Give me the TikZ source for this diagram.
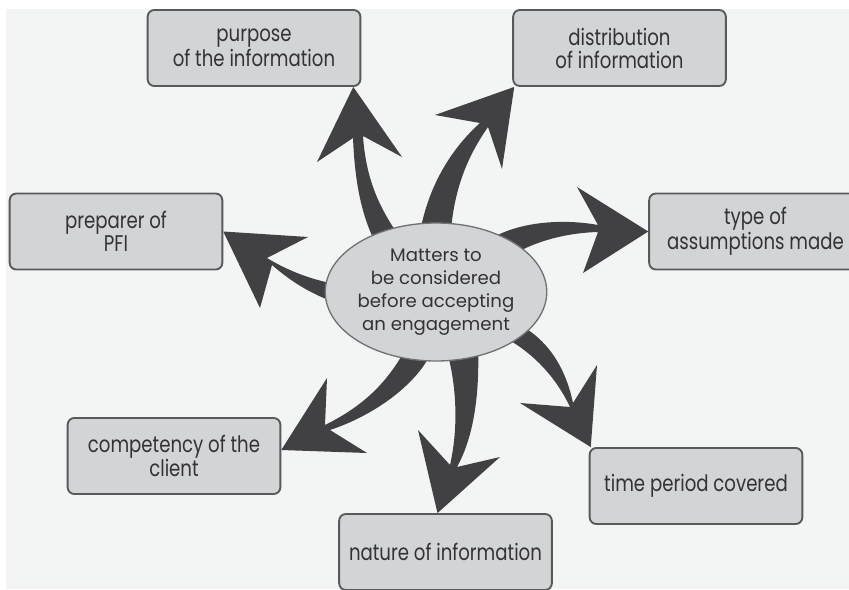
\documentclass[tikz,border=0pt]{standalone}
\usepackage{fontspec}
\setmainfont{Poppins}
\newfontfamily\boxfont[FakeStretch=0.8]{Poppins}
\usetikzlibrary{calc,shapes.geometric}
\definecolor{bg}{HTML}{F3F4F4}
\definecolor{boxfill}{HTML}{D3D4D5}
\definecolor{boxline}{HTML}{58595B}
\definecolor{arrowc}{HTML}{414143}
\definecolor{txt}{HTML}{333335}
\begin{document}
\begin{tikzpicture}[x=0.75pt,y=-0.75pt,
  infobox/.style={draw=boxline,fill=boxfill,line width=1.4pt,rounded corners=5pt,
    minimum width=159.5pt,minimum height=57pt,inner sep=0pt,align=center,
    font=\boxfont\fontsize{17}{17.25}\selectfont,text=txt},
  hub/.style={ellipse,draw=boxline!85,fill=boxfill,line width=1pt,
    minimum width=130.5pt,minimum height=103.5pt,inner sep=0pt,align=center,
    font=\fontsize{13.6}{17.25}\selectfont,text=txt},
  bigarrow/.style={fill=arrowc}]
\clip (0,0) rectangle (849,589);
\fill[white] (0,0) rectangle (849,589);
\fill[bg] (6,9) rectangle (849,589);

\node[infobox] (purp) at (254,48) {purpose\\of the information};
\node[infobox] (dist) at (619.5,48) {distribution\\of information};
\node[infobox] (prep) at (116,231.5) {preparer of\\PFI};
\node[infobox] (type) at (755.5,231.5) {type of\\assumptions made};
\node[infobox] (comp) at (174,456) {competency of the\\client};
\node[infobox] (time) at (696,486) {time period covered};
\node[infobox] (nat) at (445.5,552) {nature of information};

\coordinate (t1) at ($(purp.south east)+(-8,0)$);
\coordinate (t2) at ($(dist.south west)+(2,0)$);
\coordinate (t3) at (type.west);
\coordinate (t4) at (prep.east);
\coordinate (t5) at ($(comp.east)+(0,-6)$);
\coordinate (t6) at ($(nat.north)+(-8,0)$);
\coordinate (t7) at ($(time.north west)+(2,0)$);

\fill[bigarrow] (t1) -- (317,162) -- (353,138) .. controls (355,185) and (362,218) .. (378,248)
  -- (402,240) .. controls (380,210) and (366,180) .. (363,136) -- (402,157) -- cycle;
\fill[bigarrow] (t2) -- (435,115) -- (480,123) .. controls (450,150) and (425,190) .. (418,245)
  -- (450,245) .. controls (452,195) and (465,160) .. (488,127) -- (502,169) -- cycle;
\fill[bigarrow] (t3) -- (577,187) -- (598,225) .. controls (560,218) and (510,222) .. (482,245)
  -- (495,268) .. controls (520,245) and (560,233) .. (598,232) -- (583,273) -- cycle;
\fill[bigarrow] (t4) -- (308,237) -- (267,258) .. controls (290,272) and (320,284) .. (358,287)
  -- (360,310) .. controls (320,300) and (295,285) .. (272,265) -- (260,308) -- cycle;
\fill[bigarrow] (t5) -- (327,378) -- (325,425) .. controls (355,410) and (383,390) .. (405,350)
  -- (430,355) .. controls (415,385) and (375,415) .. (330,430) -- (367,453) -- cycle;
\fill[bigarrow] (t6) -- (418,430) -- (450,465) .. controls (458,430) and (457,390) .. (448,355)
  -- (478,345) .. controls (480,400) and (472,440) .. (457,467) -- (500,457) -- cycle;
\fill[bigarrow] (t7) -- (597,365) -- (573,403) .. controls (565,365) and (545,333) .. (505,318)
  -- (500,335) .. controls (530,350) and (555,375) .. (570,407) -- (520,403) -- cycle;

\node[hub] (hub) at (436,292) {Matters to\\be considered\\before accepting\\an engagement};
\end{tikzpicture}
\end{document}
